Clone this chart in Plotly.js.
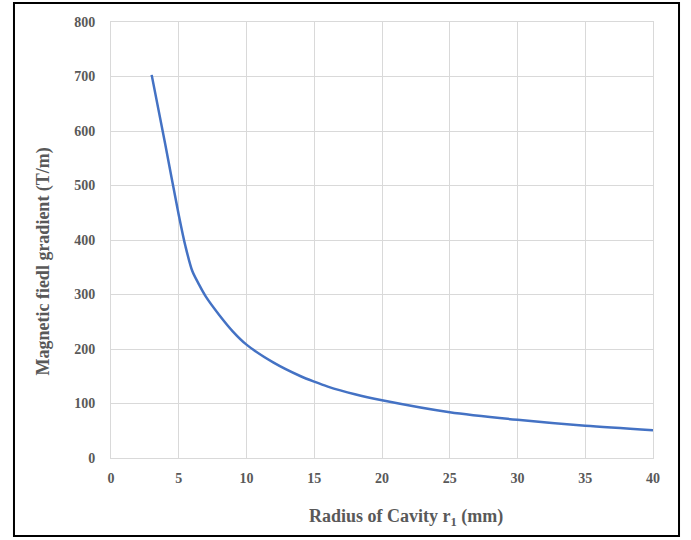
<!DOCTYPE html>
<html>
<head>
<meta charset="utf-8">
<script src="https://cdn.plot.ly/plotly-3.0.1.min.js"></script>
<style>
html,body{margin:0;padding:0;background:#fff;}
#chart{width:691px;height:540px;}
</style>
</head>
<body>
<div id="chart"></div>
<script>
// Radius of cavity r1 (mm)
const radius = [3, 4, 5, 5.5, 6, 6.5, 7, 8, 9, 10, 12, 14, 15, 16, 18, 20, 25, 30, 35, 40];
// Magnetic field gradient (T/m)
const gradient = [703, 576, 446, 388, 343, 318, 296, 262, 232, 208, 175, 150, 140, 131, 117, 106, 84, 70, 59, 51];

const xTicks = [0, 5, 10, 15, 20, 25, 30, 35, 40];
const yTicks = [0, 100, 200, 300, 400, 500, 600, 700, 800];

const xTitle = 'Radius of Cavity r<sub>1</sub> (mm)';
const yTitle = 'Magnetic fiedl gradient (T/m)';

const fontFam = '"Liberation Serif", "Times New Roman", serif';
const gray = '#595959';

const trace = {
  x: radius,
  y: gradient,
  type: 'scatter',
  mode: 'lines',
  line: {color: '#4472C4', width: 2.5, shape: 'spline', smoothing: 0.8},
  hoverinfo: 'x+y'
};

const axisCommon = {
  showgrid: true,
  gridcolor: '#d9d9d9',
  gridwidth: 1,
  zeroline: false,
  showline: true,
  linecolor: '#d9d9d9',
  linewidth: 1,
  mirror: true,
  ticks: '',
  tickfont: {family: fontFam, size: 14, color: gray, weight: 'bold'},
  fixedrange: true
};

const layout = {
  width: 691,
  height: 540,
  margin: {l: 111, r: 38, t: 22, b: 82},
  paper_bgcolor: '#ffffff',
  plot_bgcolor: '#ffffff',
  showlegend: false,
  xaxis: Object.assign({}, axisCommon, {
    range: [0, 40],
    tickvals: xTicks,
    ticktext: xTicks.map(String),
    ticklabelstandoff: 7
  }),
  yaxis: Object.assign({}, axisCommon, {
    range: [0, 800],
    tickvals: yTicks,
    ticktext: yTicks.map(String),
    ticklabelstandoff: 12
  }),
  annotations: [
    {
      text: '<b>' + xTitle + '</b>',
      xref: 'paper', yref: 'paper',
      x: 0.544, y: -0.1376,
      xanchor: 'center', yanchor: 'middle',
      showarrow: false,
      font: {family: fontFam, size: 18, color: gray}
    },
    {
      text: '<b>' + yTitle + '</b>',
      xref: 'paper', yref: 'paper',
      x: -0.124, y: 0.45,
      xanchor: 'center', yanchor: 'middle',
      textangle: -90,
      showarrow: false,
      font: {family: fontFam, size: 18, color: gray}
    }
  ],
  shapes: [
    {
      type: 'rect',
      xref: 'paper', yref: 'paper',
      x0: -0.179, x1: 1.048,
      y0: -0.179, y1: 1.0436,
      line: {color: '#000000', width: 2},
      fillcolor: 'rgba(0,0,0,0)',
      layer: 'above'
    }
  ]
};

Plotly.newPlot('chart', [trace], layout, {displayModeBar: false, staticPlot: true});
</script>
</body>
</html>
